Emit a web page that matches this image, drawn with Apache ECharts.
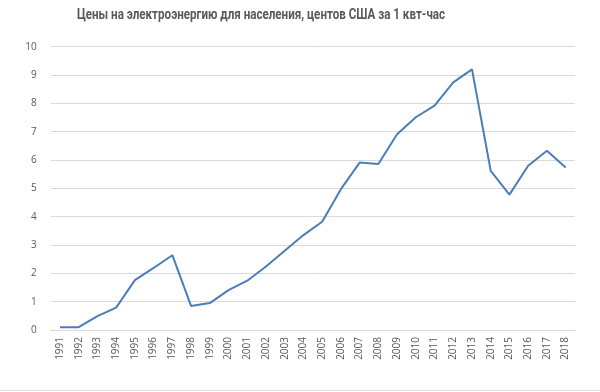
<!DOCTYPE html>
<html><head><meta charset="utf-8">
<script src="https://cdn.jsdelivr.net/npm/echarts@6/dist/echarts.min.js"></script>
<style>html,body{margin:0;padding:0;background:#fff}#c{width:600px;height:392px}</style>
</head><body><div id="c"></div>
<script>
const titleText = 'Цены на электроэнергию для населения, центов США за 1 квт-час';
const years = ['1991','1992','1993','1994','1995','1996','1997','1998','1999','2000','2001','2002','2003','2004','2005','2006','2007','2008','2009','2010','2011','2012','2013','2014','2015','2016','2017','2018'];
const prices = [0.1,0.1,0.49,0.79,1.76,2.19,2.64,0.85,0.95,1.41,1.74,2.24,2.80,3.35,3.82,4.97,5.91,5.86,6.91,7.51,7.92,8.74,9.20,5.62,4.78,5.80,6.33,5.74];
const yTicks = {min:0,max:10,interval:1};
const chart = echarts.init(document.getElementById('c'));
chart.setOption({
  animation:false,
  grid:{left:50.6,right:25,top:46.7,bottom:62},
  xAxis:{type:'category',data:years,boundaryGap:true,
    axisLine:{lineStyle:{color:'#d9d9d9'}},axisTick:{show:false},
    axisLabel:{rotate:90,color:'#595959',fontSize:10,fontFamily:'Open Sans',margin:7,interval:0}},
  yAxis:{type:'value',min:yTicks.min,max:yTicks.max,interval:yTicks.interval,
    axisLine:{show:false},axisTick:{show:false},
    splitLine:{lineStyle:{color:'#d9d9d9'}},
    axisLabel:{color:'#595959',fontSize:10,fontFamily:'Open Sans',margin:14}},
  graphic:[
    {type:'line',shape:{x1:0,y1:390.5,x2:600,y2:390.5},style:{stroke:'#e0e0e0',lineWidth:1}},
    {type:'text',x:261,y:15,scaleX:0.83,originX:0,originY:0,
      style:{text:titleText,fill:'#595959',font:'bold 14px Roboto',textAlign:'center',textVerticalAlign:'middle'}}
  ],
  series:[{type:'line',data:prices,symbol:'none',lineStyle:{color:'#4a7ebb',width:2}}]
});
</script></body></html>
